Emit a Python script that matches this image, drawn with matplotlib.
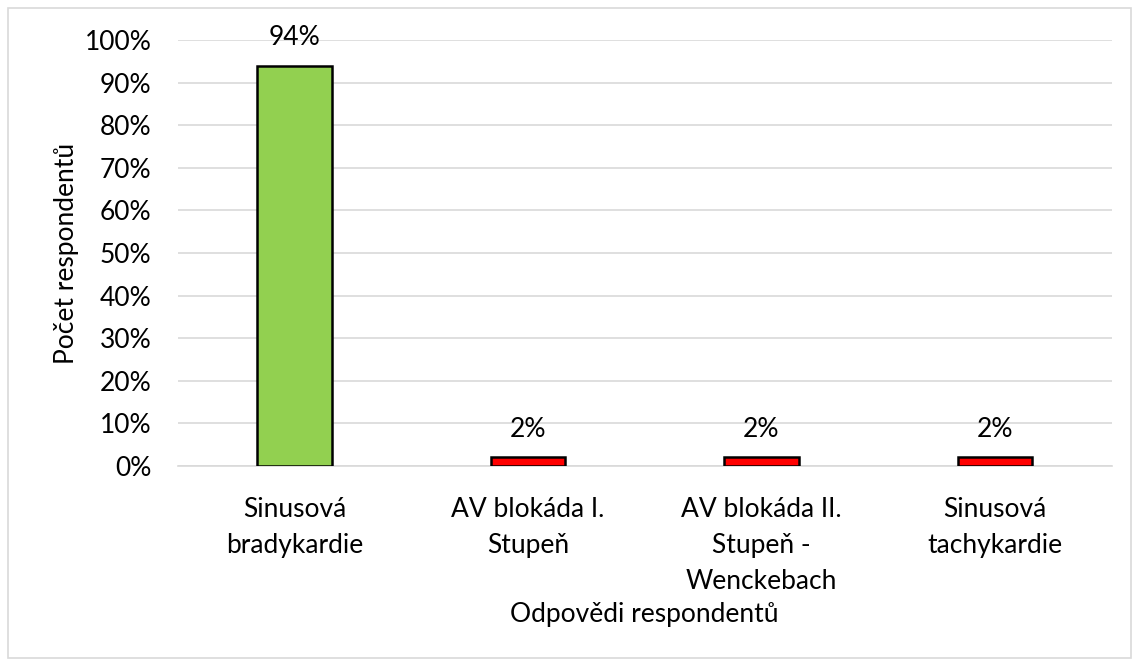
import matplotlib.pyplot as plt
from matplotlib.patches import Rectangle
from matplotlib.ticker import PercentFormatter

categories = ["Sinusová\nbradykardie", "AV blokáda I.\nStupeň",
              "AV blokáda II.\nStupeň -\nWenckebach", "Sinusová\ntachykardie"]
values = [0.94, 0.02, 0.02, 0.02]
labels = ["94%", "2%", "2%", "2%"]
colors = ["#92d050", "#ff0000", "#ff0000", "#ff0000"]

plt.rcParams['font.family'] = ['Lato', 'DejaVu Sans']
fs = 19

fig = plt.figure(figsize=(11.39, 6.66), dpi=100)
ax = fig.add_axes([0.156, 0.3003, 0.82, 0.6397])

x = range(len(categories))
ax.bar(x, values, width=0.32, color=colors, edgecolor="black", linewidth=1.8, zorder=3)
for i, v in enumerate(values):
    ax.annotate(labels[i], (i, v), xytext=(0, 11), textcoords="offset points",
                ha="center", va="bottom", fontsize=fs)

ax.set_xlim(-0.5, len(categories) - 0.5)
ax.set_ylim(0, 1.0)
ax.set_yticks([i / 10 for i in range(11)])
ax.yaxis.set_major_formatter(PercentFormatter(1.0, decimals=0))
ax.grid(axis="y", color="#d9d9d9", linewidth=1.2, zorder=0)
ax.set_axisbelow(True)
for s in ["top", "right", "left"]:
    ax.spines[s].set_visible(False)
ax.spines["bottom"].set_color("#d9d9d9")
ax.spines["bottom"].set_linewidth(1.2)
ax.tick_params(length=0, labelsize=fs)
ax.tick_params(axis="y", pad=19)
ax.tick_params(axis="x", pad=22)
ax.set_xticks(list(x))
ax.set_xticklabels(categories, linespacing=1.55)
ax.set_ylabel("Počet respondentů", fontsize=fs, labelpad=4)
ax.set_xlabel("Odpovědi respondentů", fontsize=fs, labelpad=6)

fig.patches.append(Rectangle((8 / 1139, 8 / 666), 1 - 16 / 1139, 1 - 16 / 666,
                             transform=fig.transFigure, fill=False,
                             edgecolor="#d9d9d9", linewidth=1.2))

fig.savefig("out.png", dpi=100)
